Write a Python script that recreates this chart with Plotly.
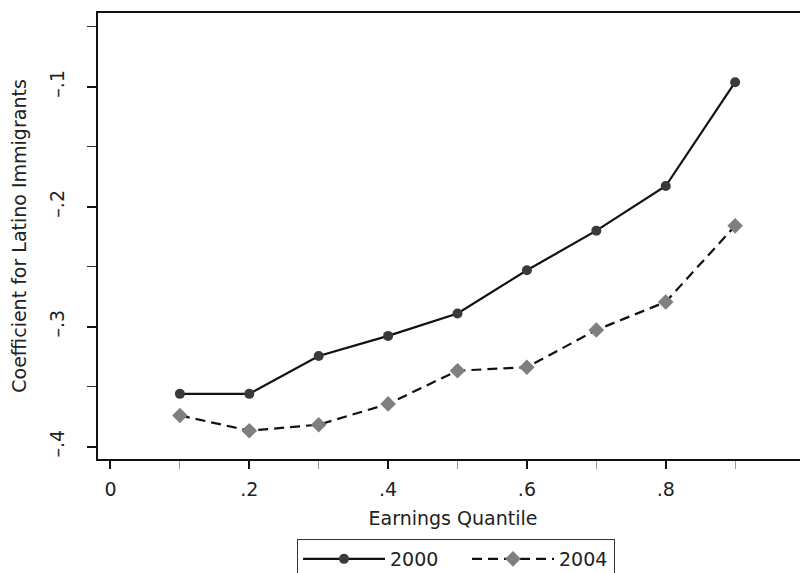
import plotly.graph_objects as go

quantiles = [0.1, 0.2, 0.3, 0.4, 0.5, 0.6, 0.7, 0.8, 0.9]
coef_2000 = [-0.356, -0.356, -0.3244, -0.3077, -0.2890, -0.2530, -0.2200, -0.1828, -0.0963]
coef_2004 = [-0.374, -0.3867, -0.3817, -0.3644, -0.3367, -0.3338, -0.3028, -0.2794, -0.2160]

x_tickvals = [0, 0.2, 0.4, 0.6, 0.8, 1]
x_ticktext = ["0", ".2", ".4", ".6", ".8", "1"]
x_minor = [0.1, 0.3, 0.5, 0.7, 0.9]
y_tickvals = [-0.4, -0.3, -0.2, -0.1]
y_ticktext = ["\u2013.4", "\u2013.3", "\u2013.2", "\u2013.1"]
y_minor = [-0.35, -0.25, -0.15, -0.05]

FONT = "DejaVu Sans"
FS = 19

# page body has an 8px default margin; figure sized to fill the rest
W, H = 800, 565
L, T, B = 90, 5, 114
PW, PH = W - L, H - T - B

fig = go.Figure()
fig.add_trace(go.Scatter(
    x=quantiles, y=coef_2000, name="2000", mode="lines+markers",
    line=dict(color="#111111", width=2.2),
    marker=dict(symbol="circle", size=10, color="#3a3a3a", line=dict(width=0)),
    legendwidth=72,
))
fig.add_trace(go.Scatter(
    x=quantiles, y=coef_2004, name="2004", mode="lines+markers",
    line=dict(color="#111111", width=2.2, dash="10px,6px"),
    marker=dict(symbol="diamond", size=12, color="#7f7f7f", line=dict(width=0)),
    legendwidth=50,
))

fig.update_layout(
    width=W, height=H,
    margin=dict(l=L, r=0, t=T, b=B, autoexpand=False),
    paper_bgcolor="white", plot_bgcolor="white",
    font=dict(family=FONT, size=FS, color="#222222"),
    showlegend=True,
    legend=dict(
        orientation="h", x=(297 - 8 - L) / PW, xanchor="left",
        y=-(539 - 8 - (T + PH)) / PH, yanchor="top",
        bordercolor="#333333", borderwidth=1,
        itemwidth=82, font=dict(family=FONT, size=FS),
    ),
)

fig.update_xaxes(
    range=[-0.018, 1.005], showgrid=False, zeroline=False, automargin=False,
    showline=True, linecolor="#111111", linewidth=2, mirror=True,
    tickmode="array", tickvals=x_tickvals, ticktext=x_ticktext,
    ticks="outside", ticklen=8, tickwidth=1.5, tickcolor="#111111",
    ticklabelstandoff=4, ticklabeloverflow="allow",
    minor=dict(tickmode="array", tickvals=x_minor, ticks="outside",
               ticklen=8, tickwidth=1.2, tickcolor="#999999", showgrid=False),
    title=dict(text="Earnings Quantile", font=dict(family=FONT, size=FS), standoff=13),
)
fig.update_yaxes(
    range=[-0.4103, -0.0386], showgrid=False, zeroline=False, automargin=False,
    showline=True, linecolor="#111111", linewidth=2,
    tickmode="array", tickvals=y_tickvals, ticktext=y_ticktext,
    tickangle=-90,
    ticks="outside", ticklen=9, tickwidth=1.5, tickcolor="#111111",
    ticklabelstandoff=15,
    minor=dict(tickmode="array", tickvals=y_minor, ticks="outside",
               ticklen=9, tickwidth=1.2, tickcolor="#333333", showgrid=False),
    title=dict(text="Coefficient for Latino Immigrants", font=dict(family=FONT, size=FS), standoff=23),
)

fig.write_html("out.html")
